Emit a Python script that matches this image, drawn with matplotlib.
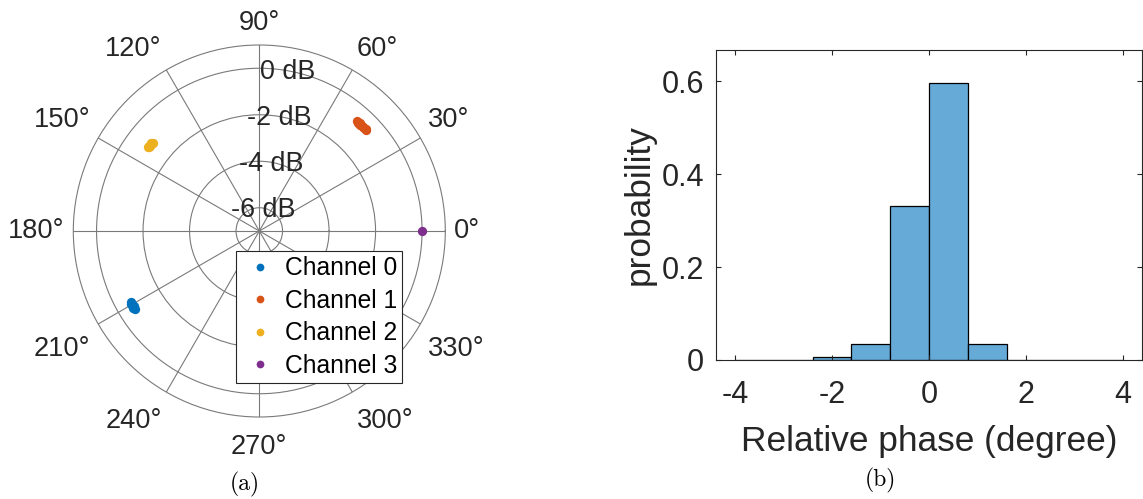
import numpy as np
import matplotlib
matplotlib.use("Agg")
import matplotlib.pyplot as plt
from matplotlib.transforms import offset_copy

plt.rcParams['font.family'] = ['Liberation Sans', 'DejaVu Sans']
plt.rcParams['axes.unicode_minus'] = False

# ---------------- data ----------------
channel_names = ['Channel 0', 'Channel 1', 'Channel 2', 'Channel 3']
channel_colors = ['#0072BD', '#D95319', '#EDB120', '#7E2F8E']

ch0_phase_deg = [209.1, 209.5, 209.9, 210.3, 210.6, 210.9, 211.3, 211.7, 212.1]
ch0_mag_db = [-0.70, -0.66, -0.69, -0.67, -0.68, -0.70, -0.66, -0.69, -0.67]
ch1_phase_deg = [43.4, 43.9, 44.5, 45.1, 45.8, 46.4, 47.0, 47.6, 48.2]
ch1_mag_db = [-0.69, -0.66, -0.70, -0.67, -0.68, -0.70, -0.66, -0.69, -0.68]
ch2_phase_deg = [140.5, 140.8, 141.1, 141.4, 141.7, 142.0, 142.3, 142.6, 142.9]
ch2_mag_db = [-1.05, -1.01, -1.04, -1.02, -1.03, -1.05, -1.01, -1.04, -1.02]
ch3_phase_deg = [0.0]
ch3_mag_db = [0.0]

r_ticks = [-6, -4, -2, 0]
r_tick_labels = ['-6 dB', '-4 dB', '-2 dB', '0 dB']
theta_ticks = [0, 30, 60, 90, 120, 150, 180, 210, 240, 270, 300, 330]
theta_tick_labels = ['0°', '30°', '60°', '90°', '120°', '150°', '180°',
                     '210°', '240°', '270°', '300°', '330°']

bin_edges = [-4.0, -3.2, -2.4, -1.6, -0.8, 0.0, 0.8, 1.6, 2.4, 3.2, 4.0]
probabilities = [0.0, 0.0, 0.006, 0.034, 0.331, 0.595, 0.034, 0.0, 0.0, 0.0]
x_ticks = [-4, -2, 0, 2, 4]
y_ticks = [0, 0.2, 0.4, 0.6]
y_tick_labels = ['0', '0.2', '0.4', '0.6']

# ---------------- figure ----------------
TXT = '#262626'
GRID = '#7a7a7a'
fig = plt.figure(figsize=(11.43, 4.99), dpi=100)

# ----- (a) polar -----
ax = fig.add_axes([0.06413, 0.16433, 0.32546, 0.7455], projection='polar')
R_MIN, R_MAX = -7, 1
ax.set_rlim(R_MIN, R_MAX)
ax.set_rticks(r_ticks)
ax.set_yticklabels([])
ax.set_thetagrids(theta_ticks, labels=[''] * len(theta_ticks))
ax.grid(True, color=GRID, lw=0.8)
ax.spines['polar'].set_color(GRID)
ax.spines['polar'].set_linewidth(0.8)
ax.tick_params(axis='both', length=0)

# theta labels, MATLAB-like alignment
PAD_PX = 9
for ang, lab in zip(theta_ticks, theta_tick_labels):
    c, s = np.cos(np.deg2rad(ang)), np.sin(np.deg2rad(ang))
    ha = 'left' if c > 0.1 else ('right' if c < -0.1 else 'center')
    va = 'bottom' if s > 0.1 else ('top' if s < -0.1 else 'center')
    dx = PAD_PX * c
    dy = PAD_PX * s - (8 if s < -0.1 else 0)
    tr = offset_copy(ax.transData, fig=fig, x=dx, y=dy, units='dots')
    ax.text(np.deg2rad(ang), R_MAX, lab, transform=tr, ha=ha, va=va,
            fontsize=19.6, color=TXT, clip_on=False)

series = [(ch0_phase_deg, ch0_mag_db), (ch1_phase_deg, ch1_mag_db),
          (ch2_phase_deg, ch2_mag_db), (ch3_phase_deg, ch3_mag_db)]
for (ph, mg), name, col in zip(series, channel_names, channel_colors):
    ax.plot(np.deg2rad(ph), mg, linestyle='none', marker='o', ms=6.7,
            mec='none', color=col, label=name)

for rv, rl in zip(r_ticks, r_tick_labels):
    ax.text(np.deg2rad(80), rv - 0.07, rl, ha='center', va='center',
            fontsize=19.4, color=TXT)

leg = fig.legend(loc='upper left', bbox_to_anchor=(235.7 / 1143, 1 - 250.7 / 499),
                 borderaxespad=0, fontsize=17.7, frameon=True, fancybox=False,
                 framealpha=1, edgecolor=TXT, borderpad=0.22, labelspacing=0.35,
                 handlelength=1.55, handletextpad=0.22, markerscale=0.83)
leg.get_frame().set_linewidth(0.8)
for t in leg.get_texts():
    t.set_color('black')

fig.text(245 / 1143, 1 - 484 / 499, '(a)', fontname='cmr10', fontsize=17,
         ha='center', va='center', color='black')

# ----- (b) histogram -----
bx = fig.add_axes([0.6262, 0.27856, 0.37323, 0.62124])
widths = np.diff(bin_edges)
bx.bar(bin_edges[:-1], probabilities, width=widths, align='edge',
       color='#66AAD7', edgecolor='black', linewidth=0.9)
bx.set_xlim(-4.4, 4.4)
bx.set_ylim(0, 0.667)
bx.set_xticks(x_ticks)
bx.set_yticks(y_ticks)
bx.set_yticklabels(y_tick_labels)
for sp in bx.spines.values():
    sp.set_color(TXT)
    sp.set_linewidth(0.8)
bx.tick_params(axis='both', direction='in', top=True, right=True, length=3.3,
               width=0.8, color=TXT, labelcolor=TXT, labelsize=22)
bx.tick_params(axis='x', pad=14.3)
bx.tick_params(axis='y', pad=8.4)
bx.set_xlabel('Relative phase (degree)', fontsize=25.4, color=TXT, labelpad=11)
bx.set_ylabel('probability', fontsize=25.4, color=TXT, labelpad=4)

fig.text(880 / 1143, 1 - 480 / 499, '(b)', fontname='cmr10', fontsize=17,
         ha='center', va='center', color='black')

fig.savefig('out.png', dpi=100)
